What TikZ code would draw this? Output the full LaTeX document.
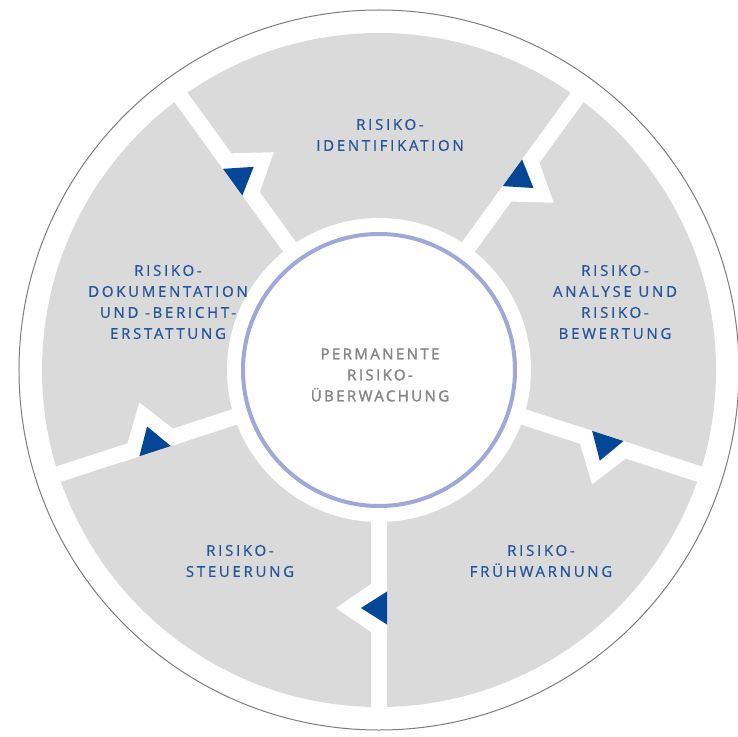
\documentclass[tikz,border=0pt]{standalone}
\usepackage{fontspec}
\usepackage{tikz}
\usetikzlibrary{positioning, calc}

\newfontfamily\cyclefont{Open Sans}[LetterSpace=18, FakeBold=0.6]
\newfontfamily\hubfont{Open Sans}[LetterSpace=16, FakeBold=2]

\definecolor{segfill}{RGB}{218,218,218}
\definecolor{labelblue}{RGB}{35,85,155}
\definecolor{pointerblue}{RGB}{5,70,150}
\definecolor{ringblue}{RGB}{160,168,215}
\definecolor{rimgray}{RGB}{125,125,125}
\definecolor{hubgray}{RGB}{135,135,135}

\begin{document}
\begin{tikzpicture}
   [
      x=1pt, y=1pt,
      rim/.style={draw=rimgray, line width=1pt},
      disk/.style={fill=segfill},
      gap line/.style={draw=white, line width=16pt},
      notch/.style={fill=white},
      pointer/.style={fill=pointerblue},
      hub/.style={fill=white},
      hub ring/.style={draw=ringblue, line width=4pt},
      step label/.style={text=labelblue, align=center,
                         font=\cyclefont\fontsize{15}{21}\selectfont},
      hub label/.style={text=hubgray, align=center,
                        font=\hubfont\fontsize{15}{21}\selectfont}
   ]

   \useasboundingbox (-379,-366) rectangle (359,370);
   \coordinate (mid) at (0,0);

   % =======================================================
   % Outer rim and grey disk
   % =======================================================

   \draw[rim] (mid) circle (360);
   \fill[disk] (mid) circle (337);

   % =======================================================
   % Gaps between the five steps, each with its pointer
   % =======================================================

   % Dokumentation -> Identifikation
   \begin{scope}[rotate=126]
      \draw[gap line] (140,0) -- (345,0);
      \fill[notch] (203,8) -- (273,8) -- (238,-43) -- cycle;
      \fill[pointer] (221.5,8) -- (254.5,8) -- (238,-18) -- cycle;
   \end{scope}

   % Identifikation -> Analyse
   \begin{scope}[rotate=54]
      \draw[gap line] (140,0) -- (345,0);
      \fill[notch] (203,8) -- (273,8) -- (238,-43) -- cycle;
      \fill[pointer] (221.5,8) -- (254.5,8) -- (238,-18) -- cycle;
   \end{scope}

   % Analyse -> Fruehwarnung
   \begin{scope}[rotate=-18]
      \draw[gap line] (140,0) -- (345,0);
      \fill[notch] (203,8) -- (273,8) -- (238,-43) -- cycle;
      \fill[pointer] (221.5,8) -- (254.5,8) -- (238,-18) -- cycle;
   \end{scope}

   % Fruehwarnung -> Steuerung
   \begin{scope}[rotate=-90]
      \draw[gap line] (140,0) -- (345,0);
      \fill[notch] (203,8) -- (273,8) -- (238,-43) -- cycle;
      \fill[pointer] (221.5,8) -- (254.5,8) -- (238,-18) -- cycle;
   \end{scope}

   % Steuerung -> Dokumentation
   \begin{scope}[rotate=198]
      \draw[gap line] (140,0) -- (345,0);
      \fill[notch] (203,8) -- (273,8) -- (238,-43) -- cycle;
      \fill[pointer] (221.5,8) -- (254.5,8) -- (238,-18) -- cycle;
   \end{scope}

   % =======================================================
   % Hub: permanent monitoring
   % =======================================================

   \fill[hub] (mid) circle (152);
   \draw[hub ring] (mid) circle (136);
   \node[hub label] (monitor) at (1,-5) {PERMANENTE\\RISIKO-\\ÜBERWACHUNG};

   % =======================================================
   % Step labels
   % =======================================================

   \node[step label] (ident) at (11,235) {RISIKO-\\IDENTIFIKATION};
   \node[step label] (analyse) at (236,68) {RISIKO-\\ANALYSE UND\\RISIKO-\\BEWERTUNG};
   \node[step label] (warning) at (162,-191) {RISIKO-\\FRÜHWARNUNG};
   \node[step label] (control) at (-139,-191) {RISIKO-\\STEUERUNG};
   \node[step label] (report) at (-211,68) {RISIKO-\\DOKUMENTATION\\UND -BERICHT-\\ERSTATTUNG};

\end{tikzpicture}
\end{document}
